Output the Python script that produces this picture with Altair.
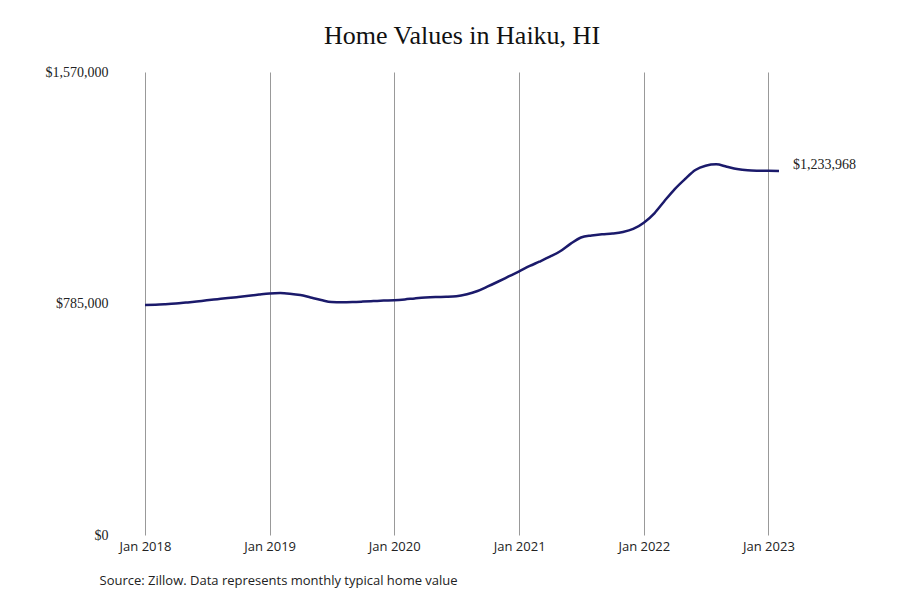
import pandas as pd
import altair as alt

# typical home value, monthly, Jan 2018 - Feb 2023
months = pd.date_range("2018-01-01", "2023-02-01", freq="MS").strftime("%Y-%m-%d").tolist()
values = [
    779900, 780600, 782300, 784700, 788100, 791800, 795900, 799600, 803300, 807100, 811100, 815200,  # 2018
    818900, 820300, 818300, 813800, 805400, 796900, 790100, 789400, 790100, 791500, 793200, 794900,  # 2019
    796200, 798900, 802300, 805400, 807100, 807700, 809400, 816200, 827400, 842700, 859600, 876600,  # 2020
    894200, 912200, 926800, 943700, 962000, 988000, 1008800, 1015600, 1019700, 1022400, 1027500, 1037700,  # 2021
    1059000, 1090900, 1130200, 1172300, 1206200, 1237700, 1252300, 1257100, 1248900, 1241100, 1236700, 1235400,  # 2022
    1235000, 1233968,  # 2023
]
year_ticks = ["2018-01-01", "2019-01-01", "2020-01-01", "2021-01-01", "2022-01-01", "2023-01-01"]
y_ticks = [0, 785000, 1570000]

df = pd.DataFrame({"month": months, "value": values})
last_df = df.tail(1)

serif = "Liberation Serif"
sans = "Open Sans"

x_enc = alt.X(
    "month:T",
    scale=alt.Scale(domain=[months[0], months[-1]]),
    axis=alt.Axis(
        values=[pd.Timestamp(t).isoformat() for t in year_ticks],
        format="%b %Y",
        grid=True, gridColor="#999999", gridWidth=1,
        domain=False, ticks=False,
        labelFlush=False, labelFont=sans, labelFontSize=13, labelColor="#222222",
        labelPadding=5,
        title="Source: Zillow. Data represents monthly typical home value",
        titleFont=sans, titleFontSize=13, titleFontWeight="normal", titleColor="#222222",
        titleAlign="left", titleX=-46, titleY=45, titleBaseline="middle",
    ),
)
y_enc = alt.Y(
    "value:Q",
    scale=alt.Scale(domain=[0, 1570000], nice=False),
    axis=alt.Axis(
        values=y_ticks, format="$,.0f", grid=False, domain=False, ticks=False,
        labelFont=serif, labelFontSize=14, labelColor="#222222", labelPadding=37,
        title=None,
    ),
)

line = alt.Chart(df).mark_line(color="#1b1a6b", strokeWidth=2.5, interpolate="monotone").encode(
    x=x_enc, y=y_enc
)

end_label = alt.Chart(last_df).mark_text(
    align="left", baseline="middle", dx=14, dy=-6, font=serif, fontSize=14, color="#222222"
).encode(
    x="month:T",
    y="value:Q",
    text=alt.Text("value:Q", format="$,.0f"),
)

chart = (line + end_label).properties(
    width=634,
    height=463,
    autosize=alt.AutoSizeParams(type="none"),
    padding={"left": 137, "top": 64, "right": 113, "bottom": 65},
    title=alt.TitleParams(
        "Home Values in Haiku, HI", font=serif, fontSize=26, fontWeight="normal",
        color="#111111", anchor="middle", offset=16,
    ),
).configure_view(strokeOpacity=0)

chart.save("out.html", embed_options={"renderer": "svg", "actions": False})
